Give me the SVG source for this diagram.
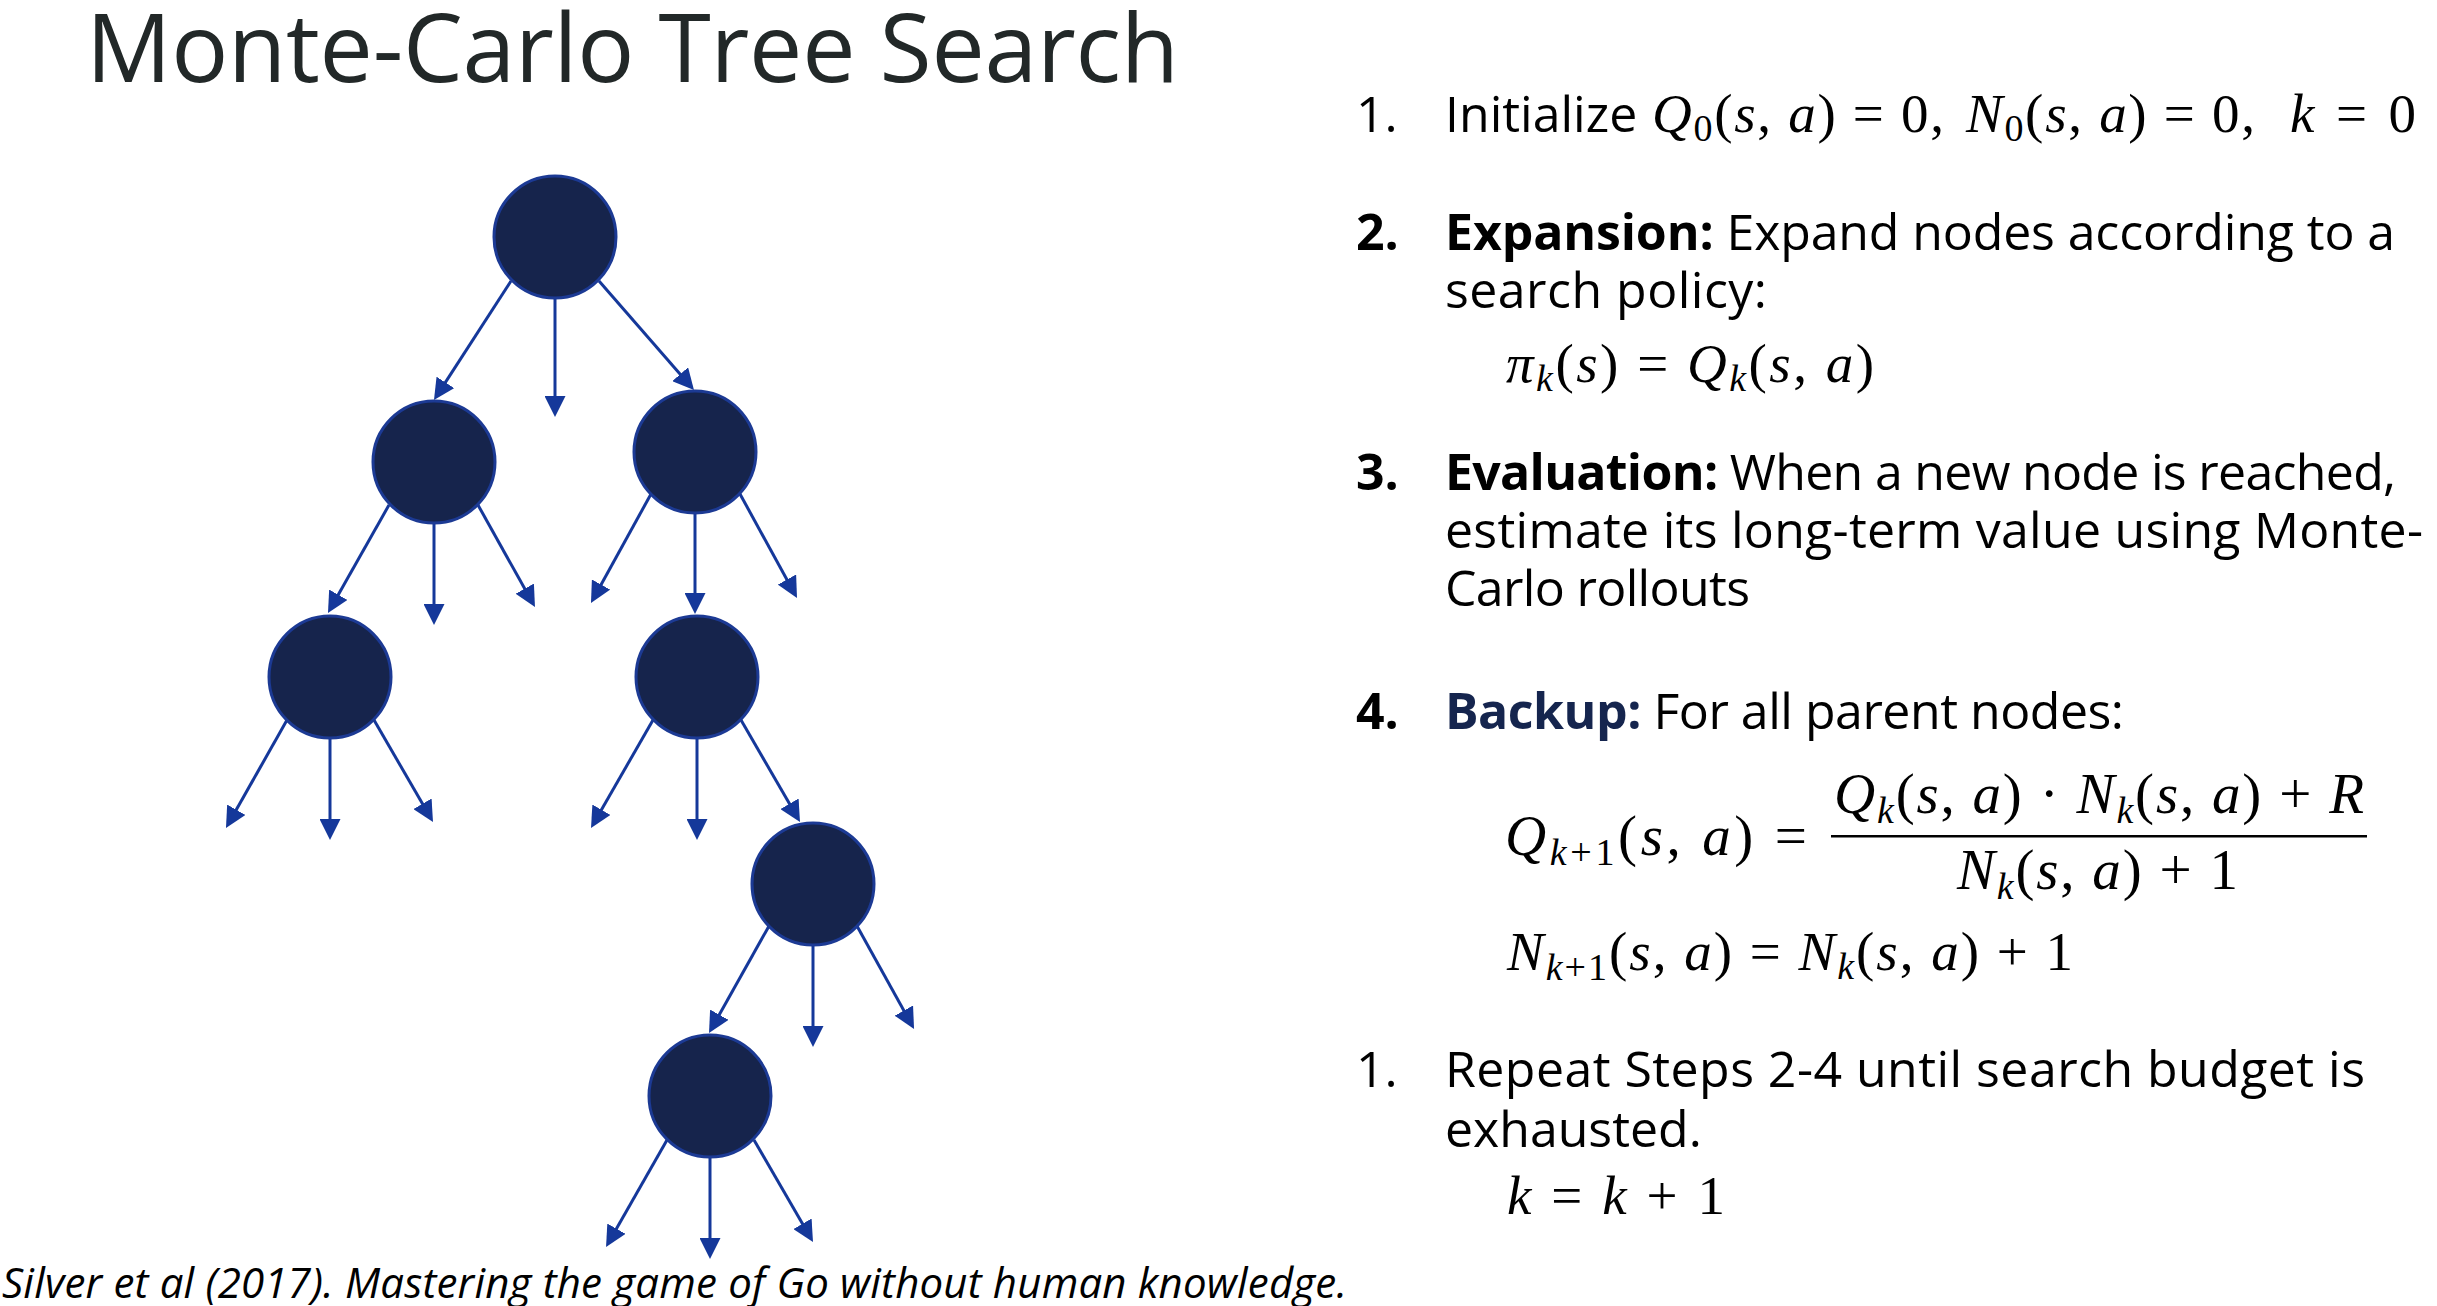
<svg xmlns="http://www.w3.org/2000/svg" width="2437" height="1306" viewBox="0 0 2437 1306">
<style>
.title{font-family:"Open Sans","Liberation Sans",sans-serif;font-size:95px;fill:#222828}
.t{font-family:"Open Sans","Liberation Sans",sans-serif;font-size:50px;fill:#000}
.b{font-weight:bold}
.bk{fill:#15254e}
.cap{font-family:"Open Sans","Liberation Sans",sans-serif;font-style:italic;font-size:42px;fill:#000}
.m{font-family:"Liberation Serif","Times New Roman",serif;font-size:55px;fill:#000}
.m2{font-size:57px}
.i{font-style:italic}
.sb{font-size:38px}
.node{fill:#16244c;stroke:#1c3a94;stroke-width:3}
.edge{stroke:#15389a;stroke-width:3;fill:none;marker-end:url(#ah)}
</style>
<defs>
<marker id="ah" viewBox="0 0 21 21" refX="11" refY="10.5" markerWidth="21" markerHeight="21" markerUnits="userSpaceOnUse" orient="auto">
<path d="M0,0 L21,10.5 L0,21 z" fill="#15389a"/>
</marker>
</defs>
<rect width="2437" height="1306" fill="#fff"/>
<text class="title" x="86" y="82" textLength="1093" lengthAdjust="spacing">Monte-Carlo Tree Search</text>

<g id="connectors">
<line class="edge" x1="511" y1="281" x2="439.4" y2="391.6"/>
<line class="edge" x1="555" y1="298" x2="555" y2="407"/>
<line class="edge" x1="599" y1="281" x2="687.4" y2="382.5"/>
<line class="edge" x1="389" y1="505" x2="332.9" y2="604.3"/>
<line class="edge" x1="434" y1="523" x2="434" y2="615"/>
<line class="edge" x1="478" y1="505" x2="530.1" y2="598.3"/>
<line class="edge" x1="651" y1="494" x2="595.8" y2="594.2"/>
<line class="edge" x1="695" y1="513" x2="695" y2="604"/>
<line class="edge" x1="740" y1="494" x2="792.2" y2="589.2"/>
<line class="edge" x1="287" y1="720" x2="230.9" y2="819.3"/>
<line class="edge" x1="330" y1="738" x2="330" y2="830"/>
<line class="edge" x1="374" y1="720" x2="428" y2="813.3"/>
<line class="edge" x1="653" y1="720" x2="596" y2="819.3"/>
<line class="edge" x1="697" y1="738" x2="697" y2="830"/>
<line class="edge" x1="741" y1="720" x2="795" y2="813.3"/>
<line class="edge" x1="769" y1="926" x2="713.9" y2="1024.3"/>
<line class="edge" x1="813" y1="945" x2="813" y2="1037"/>
<line class="edge" x1="857" y1="926" x2="909.2" y2="1020.2"/>
<line class="edge" x1="667" y1="1140" x2="611" y2="1238.3"/>
<line class="edge" x1="710" y1="1157" x2="710" y2="1249"/>
<line class="edge" x1="754" y1="1140" x2="808" y2="1233.3"/>
</g>

<g id="node-root"><circle class="node" cx="555" cy="237" r="61"/></g>
<g id="node-l1-left"><circle class="node" cx="434" cy="462" r="61"/></g>
<g id="node-l1-right"><circle class="node" cx="695" cy="452" r="61"/></g>
<g id="node-l2-left"><circle class="node" cx="330" cy="677" r="61"/></g>
<g id="node-l2-right"><circle class="node" cx="697" cy="677" r="61"/></g>
<g id="node-l3"><circle class="node" cx="813" cy="884" r="61"/></g>
<g id="node-l4"><circle class="node" cx="710" cy="1096" r="61"/></g>

<g id="step1">
<text class="t" x="1356" y="132">1.</text>
<text class="t" x="1445" y="132">Initialize</text>
<text class="m" x="1652" y="132" textLength="292" lengthAdjust="spacing"><tspan class="i">Q</tspan><tspan class="sb" dy="9">0</tspan><tspan dy="-9">(</tspan><tspan class="i">s</tspan>, <tspan class="i">a</tspan>) = 0,</text>
<text class="m" x="1966" y="132" textLength="289" lengthAdjust="spacing"><tspan class="i">N</tspan><tspan class="sb" dy="9">0</tspan><tspan dy="-9">(</tspan><tspan class="i">s</tspan>, <tspan class="i">a</tspan>) = 0,</text>
<text class="m" x="2290" y="132" textLength="126" lengthAdjust="spacing"><tspan class="i">k</tspan> = 0</text>
</g>

<g id="step2">
<text class="t b" x="1356" y="250">2.</text>
<text class="t" x="1445" y="250" textLength="950" lengthAdjust="spacing"><tspan class="b">Expansion:</tspan> Expand nodes according to a</text>
<text class="t" x="1445" y="308" textLength="322" lengthAdjust="spacing">search policy:</text>
<text class="m" x="1506" y="382" textLength="368" lengthAdjust="spacing"><tspan class="i">π</tspan><tspan class="sb i" dy="9">k</tspan><tspan dy="-9">(</tspan><tspan class="i">s</tspan>) = <tspan class="i">Q</tspan><tspan class="sb i" dy="9">k</tspan><tspan dy="-9">(</tspan><tspan class="i">s</tspan>, <tspan class="i">a</tspan>)</text>
</g>

<g id="step3">
<text class="t b" x="1356" y="490">3.</text>
<text class="t" x="1445" y="490" textLength="951" lengthAdjust="spacing"><tspan class="b">Evaluation:</tspan> When a new node is reached,</text>
<text class="t" x="1445" y="548" textLength="978" lengthAdjust="spacing">estimate its long-term value using Monte-</text>
<text class="t" x="1445" y="606" textLength="305" lengthAdjust="spacing">Carlo rollouts</text>
</g>

<g id="step4">
<text class="t b" x="1356" y="729">4.</text>
<text class="t" x="1445" y="729" textLength="679" lengthAdjust="spacing"><tspan class="b bk">Backup:</tspan> For all parent nodes:</text>
<text class="m m2" x="1505" y="855" textLength="302" lengthAdjust="spacing"><tspan class="i">Q</tspan><tspan class="sb" dy="10"><tspan class="i">k</tspan>+1</tspan><tspan dy="-10">(</tspan><tspan class="i">s</tspan>, <tspan class="i">a</tspan>) =</text>
<text class="m m2" x="1834" y="813" textLength="530" lengthAdjust="spacing"><tspan class="i">Q</tspan><tspan class="sb i" dy="10">k</tspan><tspan dy="-10">(</tspan><tspan class="i">s</tspan>, <tspan class="i">a</tspan>) · <tspan class="i">N</tspan><tspan class="sb i" dy="10">k</tspan><tspan dy="-10">(</tspan><tspan class="i">s</tspan>, <tspan class="i">a</tspan>) + <tspan class="i">R</tspan></text>
<rect x="1831" y="835" width="536" height="2.5" fill="#000"/>
<text class="m m2" x="1957" y="889" textLength="281" lengthAdjust="spacing"><tspan class="i">N</tspan><tspan class="sb i" dy="10">k</tspan><tspan dy="-10">(</tspan><tspan class="i">s</tspan>, <tspan class="i">a</tspan>) + 1</text>
<text class="m" x="1507" y="970" textLength="566" lengthAdjust="spacing"><tspan class="i">N</tspan><tspan class="sb" dy="10"><tspan class="i">k</tspan>+1</tspan><tspan dy="-10">(</tspan><tspan class="i">s</tspan>, <tspan class="i">a</tspan>) = <tspan class="i">N</tspan><tspan class="sb i" dy="9">k</tspan><tspan dy="-9">(</tspan><tspan class="i">s</tspan>, <tspan class="i">a</tspan>) + 1</text>
</g>

<g id="step5">
<text class="t" x="1356" y="1087">1.</text>
<text class="t" x="1445" y="1087" textLength="920" lengthAdjust="spacing">Repeat Steps 2-4 until search budget is</text>
<text class="t" x="1445" y="1147">exhausted.</text>
<text class="m" x="1507" y="1214" textLength="218" lengthAdjust="spacing"><tspan class="i">k</tspan> = <tspan class="i">k</tspan> + 1</text>
</g>

<text class="cap" x="2" y="1298" textLength="1345" lengthAdjust="spacing">Silver et al (2017). Mastering the game of Go without human knowledge.</text>
</svg>
